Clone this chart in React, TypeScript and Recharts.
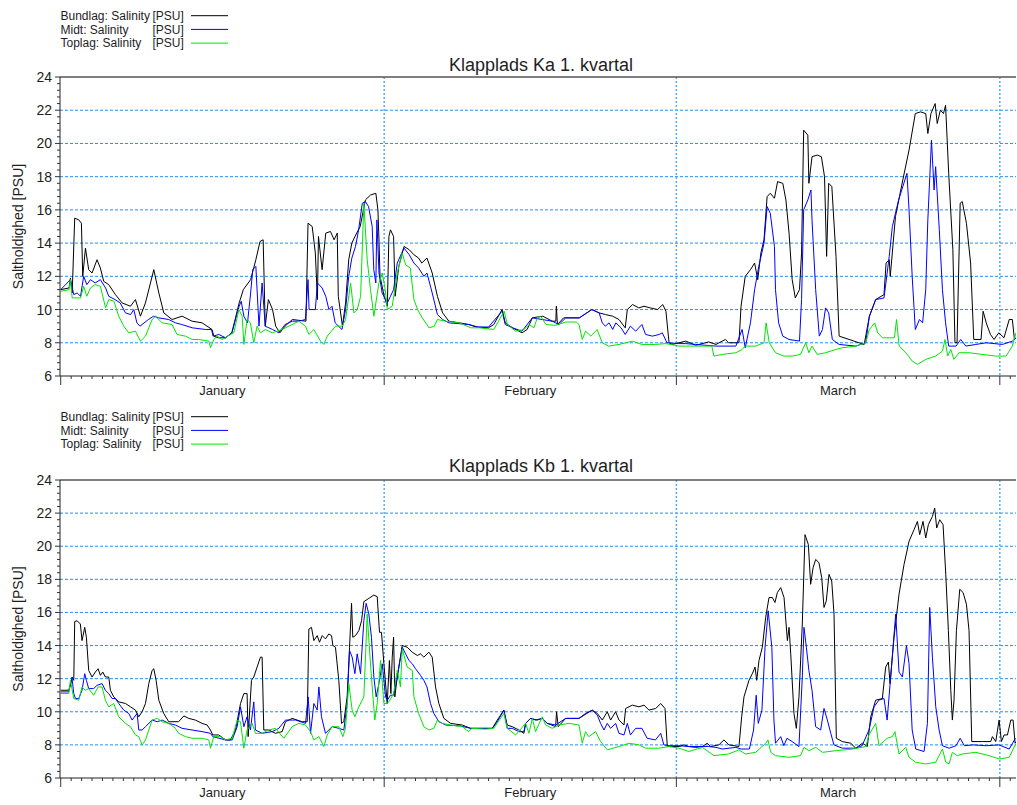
import React from "react";
import { LineChart, Line, XAxis, YAxis, ReferenceLine, CartesianGrid } from "recharts";

type P = [number, number]; // [day of quarter, salinity PSU]

const months = ["January", "February", "March"];
const monthStarts = [0, 31, 59, 90];
const yGrid = [8, 10, 12, 14, 16, 18, 20, 22];
const seriesNames = ["Bundlag: Salinity", "Midt: Salinity", "Toplag: Salinity"];
const unitLabel = "[PSU]";
const yLabel = "Saltholdighed [PSU]";
const titles = ["Klapplads Ka 1. kvartal", "Klapplads Kb 1. kvartal"];
const COLORS = ["#000000", "#0000ff", "#00e600"];

// Ka
const kaBundlag: P[] = [
  [0, 11.2], [0.8, 11.3], [0.93, 11.9], [1.1, 11.0], [1.34, 15.5], [1.73, 15.4], [1.98, 15.2], [2.11, 12.0],
  [2.37, 13.7], [2.68, 12.4], [3.0, 12.2], [3.48, 13.0], [3.8, 12.5], [4.12, 11.7], [4.6, 11.5], [5.24, 10.9],
  [5.88, 10.4], [6.68, 10.2], [7.16, 10.6], [7.64, 9.6], [8.12, 10.4], [8.92, 12.4], [9.4, 11.0], [9.88, 9.8],
  [10.67, 9.4], [11.63, 9.6], [12.59, 9.3], [13.55, 9.2], [14.5, 8.8], [14.67, 8.4], [15.1, 8.3], [15.8, 8.3],
  [16.4, 8.6], [17.1, 10.4], [17.5, 11.2], [18.2, 11.8], [18.7, 13.0], [19.1, 14.1], [19.4, 14.2], [19.6, 9.0],
  [19.9, 10.6], [20.3, 10.0], [20.6, 9.0], [21.0, 8.6], [21.5, 9.0], [22.2, 9.4], [23.5, 9.3], [23.7, 15.2],
  [24.1, 15.0], [24.4, 13.4], [24.6, 10.6], [24.7, 14.4], [25.05, 12.4], [25.4, 14.6], [25.85, 14.7], [26.2, 14.2],
  [26.5, 14.6], [26.6, 10.8], [27.0, 9.0], [27.3, 10.4], [27.6, 13.0], [27.9, 14.0], [28.2, 14.4], [28.7, 15.0],
  [29.2, 16.6], [29.7, 16.9], [30.2, 17.0], [30.4, 16.0], [30.5, 14.2], [30.6, 12.0], [31.0, 10.8], [31.3, 10.2],
  [31.45, 14.4], [31.6, 14.8], [31.9, 14.4], [32.05, 10.8], [32.4, 12.6], [32.9, 13.8], [33.4, 13.6], [33.85, 13.3],
  [34.3, 13.1], [34.6, 12.8], [35.1, 13.1], [35.6, 12.2], [36.1, 10.8], [36.6, 9.8], [37.2, 9.3], [38.2, 9.2],
  [39.1, 9.1], [39.8, 8.95], [41.0, 8.9], [41.5, 9.1], [42.3, 10.0], [42.6, 9.2], [43.3, 8.9], [44.2, 8.6],
  [44.7, 8.8], [45.2, 9.5], [46.2, 9.6], [47.1, 9.3], [47.45, 9.3], [47.5, 10.2], [47.6, 9.1], [48.2, 9.5],
  [49.7, 9.5], [50.9, 10.0], [51.6, 9.8], [52.2, 9.7], [52.9, 9.6], [53.5, 9.4], [54.1, 8.9], [54.3, 10.0],
  [54.8, 10.3], [55.4, 10.1], [55.9, 10.2], [56.5, 10.1], [57.2, 10.0], [57.7, 10.3], [58.0, 9.9], [58.3, 8.0],
  [58.6, 7.9], [59.9, 8.1], [60.85, 7.85], [62.1, 8.05], [62.8, 7.9], [63.7, 8.2], [64.0, 8.0], [65.0, 8.0],
  [65.2, 10.2], [65.6, 12.0], [66.1, 12.4], [66.5, 12.8], [66.8, 11.8], [67.1, 13.4], [67.4, 14.2], [67.7, 16.8],
  [68.0, 17.0], [68.4, 16.7], [68.7, 17.7], [69.2, 17.6], [69.5, 16.6], [69.8, 14.6], [70.1, 11.8], [70.4, 10.7],
  [70.8, 11.2], [71.0, 13.4], [71.2, 20.8], [71.6, 20.5], [71.7, 17.6], [72.0, 19.2], [72.5, 19.3], [72.9, 19.2],
  [73.2, 18.0], [73.4, 13.2], [73.6, 17.6], [73.9, 17.4], [74.3, 13.2], [74.6, 8.4], [75.55, 8.2], [76.5, 8.0],
  [77.0, 7.9], [77.5, 9.6], [78.1, 10.6], [78.9, 10.9], [79.1, 12.8], [79.4, 13.0], [79.5, 12.0], [80.0, 15.6],
  [80.7, 17.8], [81.3, 19.6], [81.9, 21.8], [82.4, 21.9], [82.9, 21.8], [83.1, 20.6], [83.4, 21.8], [83.8, 22.4],
  [84.0, 21.2], [84.3, 22.0], [84.6, 21.8], [84.8, 22.3], [85.1, 18.2], [85.5, 13.6], [85.7, 8.0], [85.9, 8.0],
  [86.2, 16.4], [86.4, 16.5], [86.8, 15.2], [87.2, 12.8], [87.5, 8.2], [88.2, 8.2], [88.4, 9.9], [88.7, 9.2],
  [89.1, 8.5], [89.45, 8.2], [89.9, 8.6], [90.4, 8.3], [90.9, 9.4], [91.2, 9.4], [91.4, 8.2], [91.55, 8.3],
];

const kaMidt: P[] = [
  [0, 11.2], [0.93, 11.8], [1.25, 10.9], [1.57, 11.0], [1.9, 10.8], [2.2, 12.0], [2.5, 11.5], [2.85, 11.8],
  [3.3, 11.6], [3.8, 11.8], [4.3, 11.3], [4.6, 10.8], [5.2, 10.6], [5.7, 10.4], [6.2, 9.8], [6.7, 9.7],
  [7.0, 10.0], [7.3, 9.2], [7.6, 9.0], [8.4, 9.4], [8.9, 9.6], [9.4, 9.5], [10.35, 9.4], [11.0, 9.2],
  [11.6, 9.1], [12.6, 8.9], [13.9, 8.8], [14.45, 8.8], [14.6, 8.4], [15.15, 8.5], [15.8, 8.3], [16.4, 8.6],
  [17.1, 10.2], [17.3, 10.5], [17.55, 9.6], [17.9, 9.2], [18.2, 11.0], [18.4, 12.4], [18.7, 12.6], [19.0, 9.0],
  [19.3, 11.6], [19.6, 9.0], [20.3, 8.8], [20.9, 8.6], [21.5, 9.1], [22.2, 9.3], [22.8, 9.3], [23.45, 9.4],
  [23.7, 11.8], [23.8, 10.0], [24.4, 10.0], [24.6, 11.6], [25.05, 11.3], [25.4, 10.8], [25.7, 10.0], [26.0, 10.2],
  [26.3, 9.2], [26.95, 8.8], [27.3, 10.0], [27.6, 12.0], [27.9, 13.1], [28.25, 13.8], [28.55, 14.8], [28.9, 16.4],
  [29.2, 16.5], [29.5, 16.2], [29.85, 15.0], [30.0, 12.4], [30.2, 11.6], [30.3, 15.4], [30.5, 12.2], [30.8, 11.0],
  [31.3, 10.4], [31.6, 10.8], [31.9, 11.2], [32.25, 12.8], [32.9, 13.7], [33.4, 13.3], [33.85, 12.8], [34.3, 12.5],
  [34.8, 12.0], [35.1, 12.2], [35.6, 11.0], [36.1, 9.7], [36.6, 9.4], [37.2, 9.2], [38.2, 9.15], [39.1, 9.1],
  [40.0, 8.95], [41.0, 8.95], [42.3, 9.9], [42.6, 9.1], [43.3, 8.9], [44.2, 8.7], [45.2, 9.5], [47.1, 9.3],
  [47.75, 9.1], [48.4, 9.5], [49.7, 9.5], [50.9, 10.0], [51.6, 9.8], [51.9, 9.2], [52.2, 9.0], [52.55, 9.2],
  [52.9, 8.8], [53.2, 9.2], [53.7, 8.9], [54.1, 8.5], [54.6, 9.0], [55.1, 8.7], [55.7, 9.1], [56.05, 8.5],
  [56.7, 8.4], [57.35, 8.5], [57.65, 8.6], [58.1, 8.0], [59.25, 7.95], [59.9, 7.95], [60.85, 7.9], [62.8, 7.8],
  [64.7, 7.8], [65.3, 8.8], [65.6, 7.7], [66.1, 9.2], [66.5, 11.2], [66.9, 12.6], [67.4, 14.0], [67.7, 16.2],
  [68.0, 15.8], [68.4, 13.8], [68.5, 11.2], [68.8, 9.2], [69.2, 8.4], [69.8, 8.2], [70.8, 8.1], [71.0, 10.6],
  [71.2, 16.0], [71.6, 16.6], [71.9, 17.2], [72.0, 15.4], [72.35, 11.2], [72.7, 8.4], [73.0, 8.8], [73.3, 10.1],
  [73.6, 9.8], [73.95, 8.2], [74.6, 7.9], [76.2, 7.8], [77.15, 8.0], [77.5, 9.6], [78.1, 10.6], [78.9, 10.7],
  [79.4, 13.2], [79.7, 15.0], [80.3, 16.6], [81.1, 18.2], [81.3, 16.0], [81.6, 12.0], [81.9, 8.8], [82.3, 9.4],
  [82.6, 9.2], [82.9, 11.2], [83.1, 15.4], [83.45, 20.2], [83.7, 17.2], [83.85, 18.6], [84.2, 14.8], [84.5, 11.2],
  [84.8, 9.2], [85.1, 7.8], [85.8, 7.8], [86.25, 8.2], [86.75, 7.8], [87.7, 7.9], [88.7, 8.0], [90.25, 7.9],
  [91.2, 8.1], [91.55, 8.3],
];

const kaToplag: P[] = [
  [0, 11.1], [0.8, 11.2], [0.93, 11.8], [1.1, 10.7], [1.9, 10.7], [2.2, 11.4], [2.5, 10.8], [2.85, 11.3],
  [3.3, 11.5], [3.8, 11.4], [4.3, 10.1], [4.6, 10.6], [5.1, 10.5], [5.56, 9.6], [6.04, 9.0], [6.52, 8.6],
  [7.16, 8.7], [7.64, 8.1], [8.12, 8.4], [8.76, 9.4], [9.08, 9.6], [9.72, 9.2], [10.67, 9.1], [11.15, 8.5],
  [11.95, 8.4], [12.59, 8.2], [13.2, 8.2], [14.2, 8.1], [14.35, 7.7], [14.67, 8.2], [14.99, 8.4], [15.47, 8.2],
  [15.79, 8.3], [16.27, 8.5], [16.59, 8.6], [17.07, 10.0], [17.39, 9.6], [17.55, 7.9], [17.86, 9.4], [18.18, 9.2],
  [18.5, 8.0], [18.82, 9.0], [19.14, 8.6], [19.62, 8.8], [20.26, 8.6], [21.22, 8.8], [22.18, 9.1], [22.82, 9.3],
  [23.46, 9.0], [23.78, 8.5], [24.26, 8.8], [24.9, 8.1], [25.22, 7.9], [25.54, 8.4], [26.34, 9.0], [26.98, 9.0],
  [27.3, 9.4], [27.78, 11.6], [28.1, 9.8], [28.42, 10.0], [28.74, 10.8], [29.05, 16.4], [29.37, 13.0], [29.69, 11.2],
  [30.01, 9.6], [30.49, 11.6], [30.81, 12.2], [31.1, 11.2], [31.3, 10.0], [31.77, 10.2], [32.25, 12.2], [32.73, 13.4],
  [33.05, 12.7], [33.5, 12.5], [33.85, 10.6], [34.2, 10.0], [34.65, 9.5], [35.3, 8.9], [35.8, 9.0], [36.1, 9.4],
  [36.9, 9.3], [38.2, 9.2], [39.3, 8.9], [40.1, 8.9], [41.5, 8.8], [42.5, 9.9], [42.8, 9.1], [43.6, 8.7],
  [44.4, 8.8], [44.9, 9.1], [45.35, 8.9], [45.67, 9.5], [46.0, 9.6], [46.5, 9.1], [47.4, 9.05], [48.4, 9.25],
  [49.4, 9.25], [49.67, 9.1], [49.98, 8.2], [50.3, 8.7], [50.8, 8.4], [51.4, 8.8], [51.9, 8.0], [52.5, 7.8],
  [53.5, 7.9], [54.8, 8.1], [55.7, 7.9], [57.0, 7.9], [58.0, 7.95], [59.25, 7.8], [59.9, 7.8], [62.4, 7.8],
  [62.6, 7.2], [63.4, 7.3], [64.7, 7.4], [65.3, 7.6], [65.6, 7.8], [66.6, 7.8], [67.4, 8.0], [67.6, 9.2],
  [67.9, 8.0], [68.5, 7.4], [69.3, 7.2], [70.1, 7.2], [70.9, 7.3], [71.4, 8.0], [71.7, 7.4], [72.0, 7.8],
  [72.5, 7.3], [73.3, 7.4], [74.3, 7.6], [74.9, 7.7], [76.2, 7.8], [77.15, 8.0], [77.5, 8.8], [78.0, 9.2],
  [78.3, 8.6], [78.75, 8.3], [79.4, 8.3], [79.9, 8.3], [80.1, 9.4], [80.35, 7.8], [81.0, 7.4], [81.6, 6.9],
  [82.1, 6.7], [82.9, 7.0], [83.85, 7.2], [84.5, 7.5], [84.75, 8.2], [85.0, 7.2], [85.3, 7.6], [85.6, 7.0],
  [86.1, 7.4], [87.05, 7.4], [88.3, 7.3], [89.6, 7.2], [90.6, 7.2], [91.2, 7.8], [91.55, 8.6],
];

// Kb
const kbBundlag: P[] = [
  [0, 11.3], [0.77, 11.3], [0.93, 11.6], [1.09, 12.1], [1.25, 11.9], [1.34, 15.45], [1.57, 15.5], [1.88, 15.3],
  [2.04, 14.3], [2.3, 15.1], [2.46, 14.5], [2.68, 12.5], [3.0, 12.1], [3.32, 12.4], [3.58, 12.6], [3.8, 12.2],
  [4.03, 12.4], [4.28, 12.1], [4.6, 12.1], [4.76, 11.3], [5.08, 10.9], [5.56, 10.6], [6.2, 10.5], [6.68, 10.3],
  [7.16, 10.1], [7.48, 9.7], [7.8, 10.0], [8.12, 10.5], [8.44, 11.7], [8.76, 12.5], [8.92, 12.6], [9.14, 11.9],
  [9.4, 10.7], [9.87, 9.9], [10.35, 9.4], [11.3, 9.4], [11.8, 9.75], [12.27, 9.6], [12.9, 9.5], [13.55, 9.3],
  [14.03, 9.2], [14.35, 8.9], [14.57, 8.6], [15.15, 8.6], [15.8, 8.3], [16.27, 8.3], [16.75, 8.9], [17.23, 10.5],
  [17.55, 11.1], [17.86, 11.1], [17.96, 8.5], [18.28, 11.9], [18.5, 12.1], [18.82, 12.7], [19.14, 13.3], [19.3, 13.3],
  [19.46, 8.9], [19.94, 8.9], [20.58, 8.7], [21.22, 8.8], [21.54, 9.4], [22.18, 9.6], [23.14, 9.4], [23.62, 9.4],
  [23.78, 15.0], [24.03, 15.1], [24.26, 14.3], [24.58, 14.6], [24.8, 14.2], [25.06, 14.6], [25.37, 14.4], [25.69, 14.7],
  [25.95, 14.6], [26.08, 14.0], [26.33, 13.9], [26.65, 11.9], [26.91, 9.3], [27.13, 9.4], [27.45, 10.9], [27.68, 13.9],
  [27.87, 16.55], [27.99, 14.5], [28.25, 14.6], [28.57, 14.9], [28.83, 15.5], [29.05, 16.65], [29.53, 16.85], [30.01, 17.05],
  [30.33, 16.95], [30.55, 14.8], [30.74, 14.8], [30.97, 12.9], [31.29, 10.5], [31.5, 13.1], [31.64, 11.1], [31.77, 13.3],
  [31.9, 14.5], [32.02, 10.9], [32.25, 12.1], [32.73, 14.0], [33.2, 13.9], [33.69, 13.6], [34.17, 13.4], [34.48, 13.5],
  [34.8, 13.3], [35.28, 13.6], [35.6, 13.3], [35.92, 11.5], [36.24, 10.5], [36.72, 9.6], [37.36, 9.3], [38.48, 9.2],
  [39.28, 9.0], [41.36, 9.0], [41.84, 9.5], [42.47, 10.1], [42.79, 9.2], [43.27, 9.1], [43.91, 8.9], [44.39, 8.7],
  [44.55, 9.3], [45.03, 9.6], [45.67, 9.5], [46.15, 9.6], [46.63, 9.3], [47.43, 9.1], [47.52, 10.0], [47.68, 9.1],
  [48.39, 9.6], [49.67, 9.6], [50.3, 9.9], [50.94, 10.1], [51.42, 9.9], [51.9, 9.5], [52.38, 10.0], [52.7, 9.5],
  [53.18, 10.0], [53.5, 9.5], [53.98, 9.2], [54.14, 10.2], [54.78, 10.4], [55.42, 10.3], [55.9, 10.4], [56.38, 10.1],
  [57.02, 10.2], [57.5, 10.5], [57.91, 10.2], [58.13, 7.9], [59.25, 7.9], [59.73, 8.0], [60.2, 7.9], [60.85, 7.85],
  [61.5, 7.9], [61.96, 8.1], [62.28, 7.9], [63.08, 8.0], [63.56, 8.3], [64.04, 8.0], [65.0, 7.9], [65.26, 9.7],
  [65.48, 10.9], [65.96, 11.9], [66.28, 12.3], [66.54, 12.7], [66.7, 11.9], [66.92, 13.1], [67.24, 13.9], [67.56, 15.7],
  [67.88, 16.9], [68.2, 16.9], [68.45, 16.6], [68.68, 17.2], [69.0, 17.5], [69.32, 16.9], [69.64, 14.3], [69.8, 15.1],
  [69.96, 13.5], [70.27, 9.9], [70.5, 9.0], [70.75, 10.9], [71.07, 15.3], [71.33, 20.7], [71.65, 20.1], [71.87, 17.7],
  [72.1, 18.7], [72.35, 19.2], [72.67, 19.0], [72.93, 18.1], [73.15, 16.3], [73.37, 16.7], [73.63, 18.3], [73.89, 17.9],
  [74.11, 15.9], [74.33, 8.4], [74.91, 8.2], [75.71, 8.1], [76.19, 7.8], [76.83, 8.1], [77.3, 7.9], [77.63, 9.7],
  [78.1, 10.7], [78.74, 10.8], [79.06, 12.7], [79.32, 13.0], [79.48, 11.7], [79.86, 14.5], [80.34, 17.1], [80.82, 18.9],
  [81.3, 20.3], [81.78, 21.0], [82.1, 21.5], [82.32, 20.7], [82.64, 21.5], [82.9, 20.5], [83.15, 21.3], [83.54, 21.8],
  [83.76, 22.3], [83.95, 21.1], [84.24, 21.6], [84.56, 21.3], [84.82, 18.3], [85.07, 14.9], [85.3, 11.3], [85.45, 9.5],
  [85.61, 10.7], [85.84, 14.9], [86.16, 17.4], [86.48, 17.2], [86.8, 16.5], [87.05, 14.9], [87.31, 8.2], [88.33, 8.2],
  [89.13, 8.2], [89.29, 8.5], [89.61, 8.2], [89.93, 9.5], [90.15, 8.2], [90.41, 8.6], [90.73, 8.6], [91.05, 9.5],
  [91.27, 9.5], [91.46, 8.1], [91.55, 8.2],
];

const kbMidt: P[] = [
  [0, 11.2], [0.77, 11.2], [0.93, 11.7], [1.09, 12.0], [1.25, 11.1], [1.41, 10.8], [1.73, 10.8], [2.04, 11.3],
  [2.3, 12.3], [2.46, 11.9], [2.68, 11.4], [3.16, 11.4], [3.48, 11.6], [3.96, 11.7], [4.28, 11.3], [4.6, 11.1],
  [4.92, 10.8], [5.24, 10.8], [5.56, 10.5], [6.04, 10.1], [6.52, 9.9], [6.84, 9.5], [7.32, 9.9], [7.48, 8.9],
  [7.8, 8.9], [8.12, 9.1], [8.76, 9.5], [9.24, 9.4], [9.72, 9.5], [10.35, 9.3], [10.99, 9.2], [11.63, 9.0],
  [12.59, 8.9], [13.55, 8.8], [14.35, 8.7], [14.57, 8.5], [15.79, 8.3], [16.43, 8.3], [16.91, 9.1], [17.23, 10.3],
  [17.55, 9.1], [17.86, 9.7], [18.18, 8.9], [18.5, 10.6], [18.66, 8.9], [19.3, 8.7], [20.26, 8.8], [20.9, 9.0],
  [21.54, 9.5], [22.5, 9.5], [23.46, 9.3], [23.71, 10.9], [23.94, 8.7], [24.26, 10.5], [24.58, 10.1], [24.74, 11.5],
  [24.99, 9.7], [25.37, 8.7], [26.01, 9.1], [26.65, 9.0], [27.13, 8.9], [27.45, 10.5], [27.68, 13.7], [27.93, 13.3],
  [28.19, 12.3], [28.41, 13.5], [28.73, 12.3], [29.05, 15.5], [29.27, 16.55], [29.53, 15.9], [29.78, 14.5], [30.01, 12.1],
  [30.23, 10.9], [30.49, 11.7], [30.81, 12.9], [31.13, 10.9], [31.3, 10.7], [31.6, 11.0], [31.9, 11.0], [32.25, 12.1],
  [32.73, 13.9], [33.05, 13.5], [33.37, 13.1], [33.69, 12.9], [34.0, 12.6], [34.48, 12.2], [34.8, 11.9], [35.1, 11.5],
  [35.44, 10.5], [35.76, 9.9], [36.24, 9.4], [36.9, 9.2], [38.2, 9.15], [39.3, 9.0], [41.36, 9.0], [41.84, 9.4],
  [42.47, 10.1], [42.79, 9.0], [43.27, 9.0], [43.91, 8.8], [44.39, 8.8], [44.55, 9.3], [45.03, 9.6], [45.5, 9.5],
  [46.15, 9.6], [46.63, 9.3], [47.43, 9.2], [48.39, 9.6], [49.67, 9.6], [50.94, 10.1], [51.42, 9.8], [51.74, 9.3],
  [52.06, 8.9], [52.38, 9.3], [52.7, 9.0], [53.18, 9.3], [53.5, 8.7], [53.98, 8.6], [54.3, 9.3], [54.6, 8.6],
  [55.1, 9.0], [55.7, 9.0], [56.2, 8.4], [57.0, 8.3], [57.5, 8.7], [57.8, 8.0], [58.3, 7.95], [59.25, 7.95],
  [60.2, 7.9], [62.1, 7.9], [62.8, 7.85], [63.4, 7.75], [64.7, 7.85], [65.2, 7.75], [66.0, 7.75], [66.4, 8.9],
  [66.65, 11.0], [66.85, 9.3], [67.2, 10.1], [67.5, 13.9], [67.8, 16.1], [68.15, 13.9], [68.35, 9.5], [68.5, 8.1],
  [69.0, 8.5], [69.3, 7.95], [69.6, 8.4], [70.1, 8.2], [70.75, 7.9], [71.07, 12.1], [71.23, 15.1], [71.46, 13.9],
  [71.7, 12.5], [72.0, 11.3], [72.35, 9.1], [72.83, 8.9], [73.15, 10.2], [73.47, 9.5], [73.8, 8.7], [74.1, 8.0],
  [74.9, 7.8], [76.2, 7.8], [76.8, 7.95], [77.46, 8.9], [77.95, 10.3], [78.4, 10.7], [78.9, 10.8], [79.2, 9.5],
  [79.54, 12.1], [80.02, 15.9], [80.34, 12.4], [80.66, 12.1], [81.05, 14.0], [81.3, 12.9], [81.6, 8.9], [81.94, 7.75],
  [82.74, 7.6], [83.06, 9.3], [83.28, 16.3], [83.54, 13.3], [83.86, 10.3], [84.18, 8.9], [84.5, 7.95], [85.14, 7.8],
  [85.8, 7.95], [86.2, 8.4], [86.6, 7.95], [87.4, 8.0], [88.7, 7.95], [89.9, 8.0], [90.9, 7.75], [91.4, 8.3],
  [91.55, 8.4],
];

const kbToplag: P[] = [
  [0, 11.1], [0.77, 11.1], [0.93, 11.9], [1.25, 10.8], [1.73, 10.7], [2.04, 11.5], [2.36, 11.3], [2.68, 11.4],
  [3.16, 11.0], [3.58, 11.5], [3.96, 11.5], [4.28, 10.7], [4.6, 10.3], [5.08, 10.5], [5.56, 9.7], [6.2, 9.3],
  [6.68, 9.1], [7.16, 8.6], [7.48, 8.5], [7.8, 8.0], [8.12, 8.3], [8.76, 9.5], [9.24, 9.6], [9.72, 9.4],
  [10.35, 9.3], [10.99, 9.0], [11.3, 8.7], [11.95, 8.5], [12.59, 8.4], [13.55, 8.4], [14.19, 8.3], [14.35, 7.8],
  [14.67, 8.5], [15.31, 8.5], [15.79, 8.3], [16.43, 8.4], [16.91, 9.5], [17.23, 9.4], [17.55, 7.8], [17.86, 8.9],
  [18.34, 9.3], [18.66, 8.7], [19.3, 8.7], [19.94, 8.9], [20.58, 9.0], [21.38, 8.4], [22.18, 9.1], [22.82, 9.3],
  [23.46, 9.2], [23.94, 8.8], [24.26, 8.3], [24.74, 8.5], [25.22, 7.9], [25.54, 8.6], [26.01, 9.1], [26.65, 9.1],
  [27.04, 8.5], [27.29, 9.0], [27.61, 11.7], [27.93, 10.1], [28.19, 9.7], [28.57, 10.3], [29.05, 10.9], [29.37, 15.9],
  [29.62, 13.5], [29.85, 11.5], [30.1, 9.5], [30.33, 10.5], [30.65, 13.1], [30.97, 10.5], [31.2, 10.5], [31.45, 10.6],
  [31.9, 11.1], [32.25, 12.5], [32.56, 11.5], [32.73, 13.8], [33.2, 12.7], [33.69, 12.5], [33.85, 10.9], [34.3, 9.9],
  [34.8, 9.1], [35.28, 8.9], [35.76, 9.0], [36.1, 9.5], [36.56, 9.3], [37.36, 9.2], [38.48, 9.1], [39.1, 8.8],
  [39.4, 9.0], [40.7, 8.95], [41.5, 9.0], [42.47, 9.9], [42.79, 9.0], [43.6, 8.6], [44.55, 9.3], [44.87, 8.7],
  [45.2, 9.6], [45.5, 8.8], [46.15, 9.7], [46.47, 9.2], [47.1, 9.0], [47.75, 9.2], [48.7, 9.3], [49.67, 9.2],
  [49.98, 8.1], [50.3, 8.8], [50.6, 8.5], [51.26, 8.8], [51.74, 8.2], [52.38, 7.7], [53.5, 7.9], [54.46, 8.1],
  [55.42, 8.0], [56.06, 7.8], [57.33, 7.8], [58.29, 7.9], [59.25, 7.8], [60.2, 7.6], [61.5, 7.85], [62.6, 7.35],
  [64.0, 7.45], [65.0, 7.7], [65.6, 7.45], [66.6, 7.55], [67.56, 8.1], [67.78, 8.3], [68.04, 7.55], [68.5, 7.35],
  [69.8, 7.25], [70.9, 7.35], [71.23, 7.85], [71.7, 7.65], [72.35, 7.85], [73.0, 7.55], [74.3, 7.65], [75.9, 7.75],
  [77.15, 7.9], [77.46, 8.6], [78.1, 9.3], [78.42, 7.95], [79.2, 8.4], [79.7, 8.5], [79.95, 8.8], [80.34, 7.45],
  [80.98, 7.85], [81.3, 7.25], [81.94, 6.95], [82.9, 6.85], [83.86, 6.95], [84.5, 7.75], [84.82, 6.95], [85.14, 6.85],
  [85.45, 7.55], [85.93, 7.35], [86.4, 7.45], [87.7, 7.55], [88.97, 7.35], [89.93, 7.15], [90.9, 7.25], [91.55, 8.1],
];

const FONT = "'Liberation Sans', Arial, sans-serif";
const TEXT = "#1e1e1e";
const GRID = "#1e90ff";

const monthMids = months.map((_, i) => (monthStarts[i] + monthStarts[i + 1]) / 2);
const xTicks = Array.from(new Set([...Array.from({ length: 92 }, (_, i) => i), ...monthMids])).sort((a, b) => a - b);
const yTicks = Array.from({ length: 46 }, (_, i) => Math.round((6 + i * 0.4) * 10) / 10);

const toRows = (pts: P[]) => pts.map(([d, v]) => ({ d, v }));

const XTick = (props: any) => {
  const { x, y, payload } = props;
  const v = payload.value;
  const mi = monthMids.indexOf(v);
  return (
    <g>
      {Number.isInteger(v) && (
        <line x1={x} x2={x} y1={y} y2={y + (monthStarts.includes(v) ? 9 : 3)} stroke="#333" />
      )}
      {mi >= 0 && (
        <text x={x} y={y + 19} textAnchor="middle" fontSize={13} fontFamily={FONT} fill={TEXT}>
          {months[mi]}
        </text>
      )}
    </g>
  );
};

const YTick = (props: any) => {
  const { x, y, payload } = props;
  const v = payload.value;
  const major = Math.abs(v / 2 - Math.round(v / 2)) < 1e-6;
  return (
    <g>
      <line x1={x} x2={x - (major ? 5 : 3)} y1={y} y2={y} stroke="#333" />
      {major && (
        <text x={x - 8} y={y + 5} textAnchor="end" fontSize={14} fontFamily={FONT} fill={TEXT}>
          {v}
        </text>
      )}
    </g>
  );
};

function Panel({ top, height, marginTop, axisHeight, title, series }: {
  top: number; height: number; marginTop: number; axisHeight: number; title: string; series: P[][];
}) {
  const plotMid = marginTop + (height - marginTop - axisHeight) / 2;
  return (
    <div style={{ position: "absolute", left: 0, top, width: 1017, height }}>
      <LineChart width={1017} height={height} margin={{ top: marginTop, right: 1, bottom: 0, left: 0 }}>
        <CartesianGrid horizontal vertical={false} horizontalValues={yGrid} stroke={GRID} strokeDasharray="3 2" />
        <CartesianGrid
          horizontal={false}
          vertical
          verticalValues={monthStarts.slice(1)}
          stroke="#5aaaff"
          strokeWidth={1.5}
          strokeDasharray="2 2"
        />
        <XAxis
          type="number"
          dataKey="d"
          domain={[-0.07, 91.55]}
          allowDataOverflow
          ticks={xTicks}
          interval={0}
          tick={XTick}
          tickLine={false}
          tickSize={0}
          tickMargin={0}
          height={axisHeight}
          axisLine={{ stroke: "#222" }}
        />
        <YAxis
          type="number"
          domain={[6, 24]}
          allowDataOverflow
          ticks={yTicks}
          interval={0}
          tick={YTick}
          tickLine={false}
          tickSize={0}
          tickMargin={0}
          width={60}
          axisLine={{ stroke: "#222" }}
        />
        <ReferenceLine y={24} stroke="#555" strokeWidth={1.5} />
        {series.map((s, i) => (
          <Line
            key={i}
            data={toRows(s)}
            dataKey="v"
            type="linear"
            stroke={COLORS[i]}
            strokeWidth={1}
            dot={false}
            activeDot={false}
            isAnimationActive={false}
          />
        ))}
      </LineChart>
      <svg width={1017} height={height} style={{ position: "absolute", left: 0, top: 0, pointerEvents: "none" }}>
        {seriesNames.map((n, i) => (
          <g key={n}>
            <text x={60.5} y={20 + i * 13.5} fontSize={12} fontFamily={FONT} fill={TEXT}>{n}</text>
            <text x={152.5} y={20 + i * 13.5} fontSize={12} fontFamily={FONT} fill={TEXT}>{unitLabel}</text>
            <line x1={191} x2={228} y1={15.7 + i * 13.7} y2={15.7 + i * 13.7} stroke={COLORS[i]} strokeWidth={1} />
          </g>
        ))}
        <text x={541} y={71} textAnchor="middle" fontSize={18} fontFamily={FONT} fill={TEXT}>{title}</text>
        <text
          x={23}
          y={plotMid}
          textAnchor="middle"
          fontSize={14}
          fontFamily={FONT}
          fill={TEXT}
          transform={`rotate(-90 23 ${plotMid})`}
        >
          {yLabel}
        </text>
      </svg>
    </div>
  );
}

export default function App() {
  return (
    <div style={{ position: "absolute", left: 0, top: 0, width: 1017, height: 805, background: "#fff" }}>
      <Panel top={0} height={401} marginTop={77} axisHeight={25} title={titles[0]} series={[kaBundlag, kaMidt, kaToplag]} />
      <Panel top={401} height={404} marginTop={79} axisHeight={27} title={titles[1]} series={[kbBundlag, kbMidt, kbToplag]} />
    </div>
  );
}
